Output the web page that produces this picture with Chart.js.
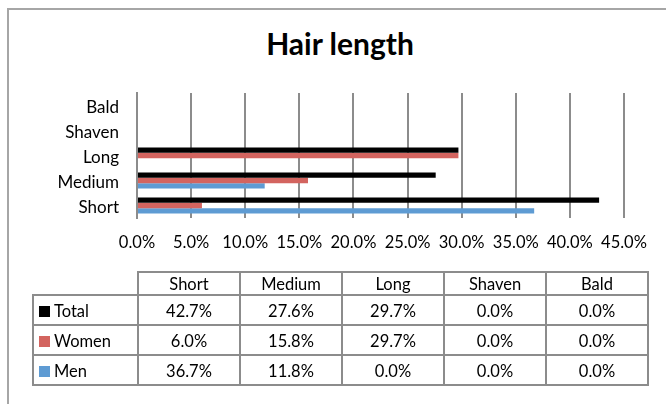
<!DOCTYPE html>
<html lang="en">

<head>
    <meta charset="UTF-8">
    <title>Hair length</title>
    <script src="https://cdn.jsdelivr.net/npm/chart.js"></script>
</head>

<style>
    body { margin: 0; background: #fff; }
    #box {
        position: relative;
        width: 666px;
        height: 404px;
        overflow: hidden;
        font-family: Lato, sans-serif;
    }
    #frame {
        position: absolute;
        left: 7px;
        top: 8px;
        width: 700px;
        height: 450px;
        border: 2px solid #a6a6a6;
    }
    #title {
        position: absolute;
        left: 0;
        width: 680px;
        top: 25px;
        text-align: center;
        font-size: 30px;
        font-weight: bold;
        line-height: 36px;
    }
    #myChart { position: absolute; left: 0; top: 0; }
    #table {
        position: absolute;
        left: 32px;
        top: 271px;
        border-collapse: collapse;
        font-size: 16.5px;
        color: #000;
    }
    #table td {
        border: 2px solid #8c8c8c;
        text-align: center;
        padding: 1px 0 0 0;
    }
    #table td.key { text-align: left; padding-left: 5px; }
    #table tr.head td { height: 19px; }
    #table tr.row td { height: 27px; }
    .sw { display: inline-block; width: 11px; height: 11px; margin-right: 4px; vertical-align: 0px; }
</style>

<body>
    <div id="box">
        <div id="frame"></div>
        <div id="title">Hair length</div>
        <canvas id="myChart" width="666" height="404"></canvas>
        <table id="table"></table>
    </div>

    <script>
        const categories = ['Short', 'Medium', 'Long', 'Shaven', 'Bald'];
        const total = [42.7, 27.6, 29.7, 0, 0];
        const women = [6.0, 15.8, 29.7, 0, 0];
        const men = [36.7, 11.8, 0, 0, 0];
        const seriesNames = ['Total', 'Women', 'Men'];
        const seriesColors = ['#000000', '#d3645f', '#5e9bd3'];
        const tickMax = 45;
        const tickStep = 5;

        const FONT = 'Lato, sans-serif';
        const pct = v => Number(v).toFixed(1) + '%';

        const chartCanvas = document.getElementById('myChart').getContext('2d');
        const seriesValues = [total, women, men];

        const chart = new Chart(chartCanvas, {
            type: 'bar',
            data: {
                labels: categories,
                datasets: seriesNames.map((name, i) => ({
                    label: name,
                    data: seriesValues[i],
                    backgroundColor: seriesColors[i],
                    barPercentage: 1,
                    categoryPercentage: 0.64
                }))
            },
            options: {
                indexAxis: 'y',
                responsive: false,
                animation: false,
                layout: {
                    padding: { left: 7, right: 42, top: 93, bottom: 146 }
                },
                scales: {
                    x: {
                        min: 0,
                        max: tickMax,
                        ticks: {
                            stepSize: tickStep,
                            padding: 15,
                            color: '#000',
                            font: { family: FONT, size: 16.5 },
                            callback: v => pct(v)
                        },
                        grid: { color: '#8c8c8c', lineWidth: 2, drawTicks: false },
                        border: { display: false },
                        afterFit: s => { s.height = 40; }
                    },
                    y: {
                        reverse: true,
                        ticks: {
                            padding: 18,
                            labelOffset: 2,
                            color: '#000',
                            font: { family: FONT, size: 17 }
                        },
                        grid: { display: false, drawTicks: false },
                        border: { display: true, color: '#8c8c8c', width: 2 },
                        afterFit: s => { s.width = 130; }
                    }
                },
                plugins: {
                    legend: { display: false },
                    tooltip: { enabled: false },
                    title: { display: false }
                }
            }
        });

        // data table under the chart
        const table = document.getElementById('table');
        let html = '<tr class="head"><td style="border:none;width:104px"></td>';
        categories.forEach(c => { html += '<td style="width:100px">' + c + '</td>'; });
        html += '</tr>';
        seriesNames.forEach((name, i) => {
            html += '<tr class="row"><td class="key"><span class="sw" style="background:' + seriesColors[i] + '"></span>' + name + '</td>';
            seriesValues[i].forEach(v => { html += '<td>' + pct(v) + '</td>'; });
            html += '</tr>';
        });
        table.innerHTML = html;
    </script>
</body>

</html>
